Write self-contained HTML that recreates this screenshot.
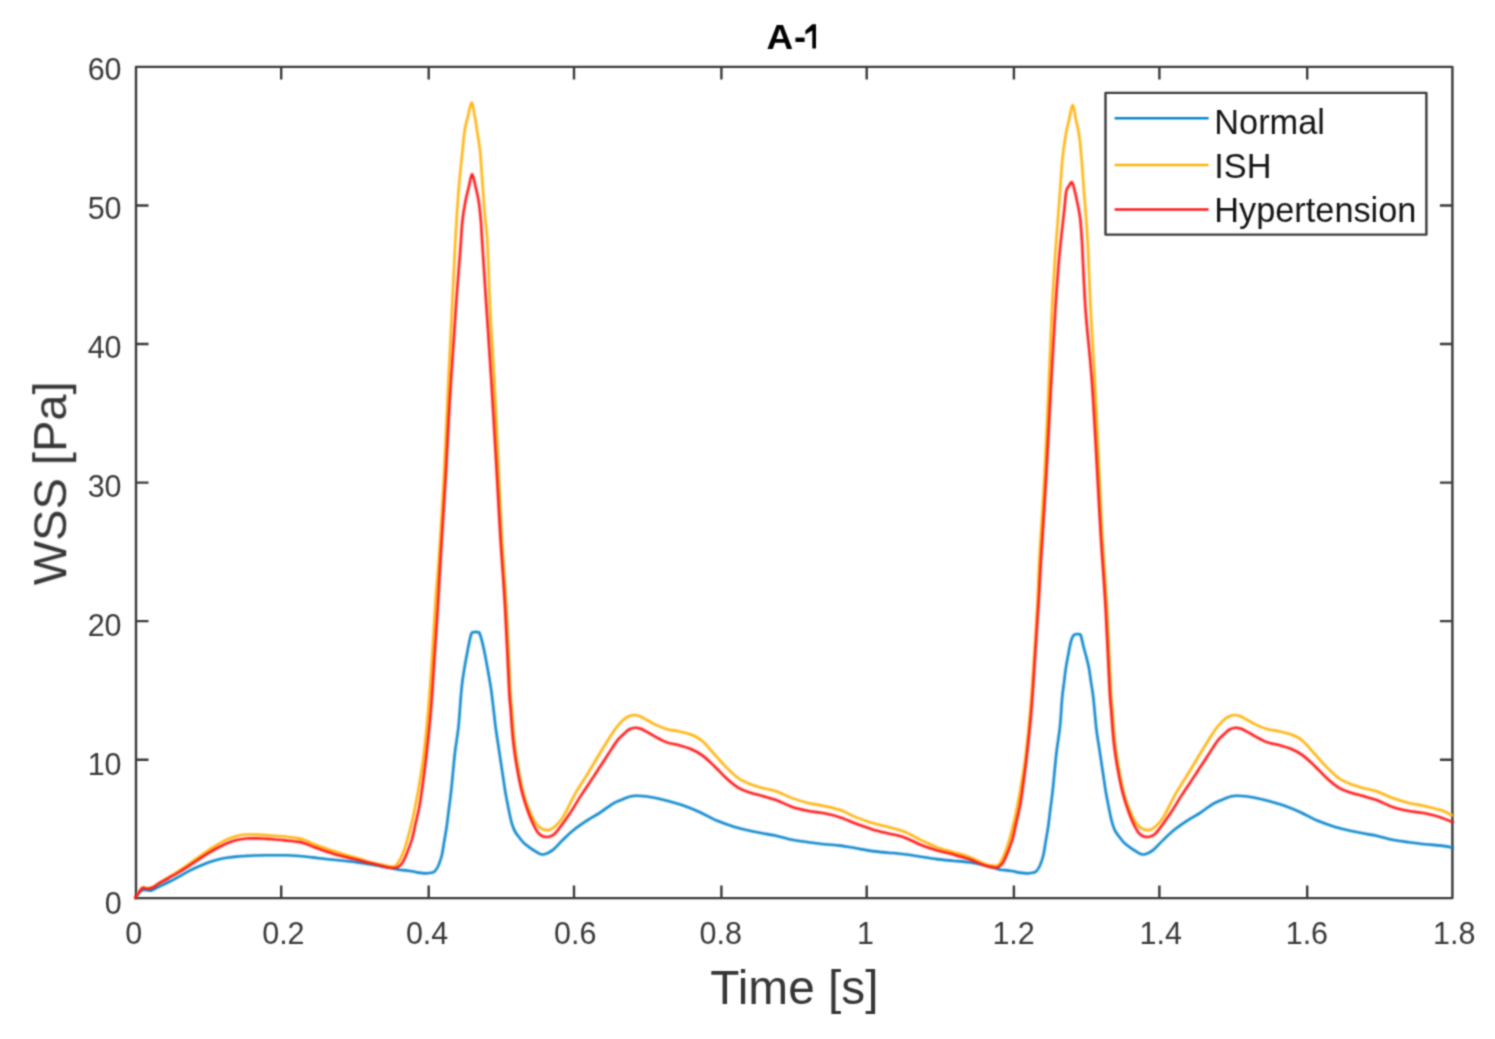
<!DOCTYPE html>
<html><head><meta charset="utf-8"><title>A-1</title>
<style>html,body{margin:0;padding:0;background:#fff;width:1495px;height:1039px;overflow:hidden}
svg{display:block;font-family:"Liberation Sans",sans-serif}</style></head>
<body><svg width="1495" height="1039" viewBox="0 0 1495 1039">
<defs><filter id="bl" x="0" y="0" width="1495" height="1039" filterUnits="userSpaceOnUse" color-interpolation-filters="sRGB"><feConvolveMatrix order="5" kernelMatrix="0.00009 0.00198 0.00548 0.00198 0.00009 0.00198 0.04220 0.11707 0.04220 0.00198 0.00548 0.11707 0.32480 0.11707 0.00548 0.00198 0.04220 0.11707 0.04220 0.00198 0.00009 0.00198 0.00548 0.00198 0.00009" edgeMode="none"/></filter><filter id="bl2" x="0" y="0" width="1495" height="1039" filterUnits="userSpaceOnUse" color-interpolation-filters="sRGB"><feConvolveMatrix order="5" kernelMatrix="0.00142 0.00904 0.01675 0.00904 0.00142 0.00904 0.05757 0.10673 0.05757 0.00904 0.01675 0.10673 0.19786 0.10673 0.01675 0.00904 0.05757 0.10673 0.05757 0.00904 0.00142 0.00904 0.01675 0.00904 0.00142" edgeMode="none"/></filter><clipPath id="cp"><rect x="136.0" y="64.9" width="1316.4" height="835.2"/></clipPath></defs>
<rect width="100%" height="100%" fill="#fff"/>
<g filter="url(#bl)">
<rect x="136.0" y="66.9" width="1316.4" height="831.2" fill="none" stroke="#3a3a3a" stroke-width="2.40" stroke-linejoin="round"/>
<path d="M281.2 898.1V885.6M281.2 66.9V79.4M428.7 898.1V885.6M428.7 66.9V79.4M574.0 898.1V885.6M574.0 66.9V79.4M721.4 898.1V885.6M721.4 66.9V79.4M866.7 898.1V885.6M866.7 66.9V79.4M1013.9 898.1V885.6M1013.9 66.9V79.4M1159.4 898.1V885.6M1159.4 66.9V79.4M1307.2 898.1V885.6M1307.2 66.9V79.4M136.0 759.7H148.5M1452.4 759.7H1439.9M136.0 621.1H148.5M1452.4 621.1H1439.9M136.0 482.6H148.5M1452.4 482.6H1439.9M136.0 344.0H148.5M1452.4 344.0H1439.9M136.0 205.5H148.5M1452.4 205.5H1439.9" stroke="#3a3a3a" stroke-width="2.40" fill="none"/>
</g>
<g filter="url(#bl2)"><g fill="none" stroke-width="2.60" stroke-linejoin="round" stroke-linecap="round">
<path stroke="#0a86cd" d="M135.3 898.0C136.5 896.7 139.5 891.4 142.2 890.2C144.8 889.0 148.6 891.1 151.2 890.6C153.8 890.1 155.1 888.6 158.0 887.2C160.9 885.8 165.4 883.7 168.8 882.0C172.2 880.3 175.3 878.6 178.5 876.8C181.7 875.0 185.0 873.1 188.2 871.4C191.4 869.7 194.7 868.2 197.9 866.8C201.1 865.3 204.4 863.9 207.6 862.7C210.8 861.5 214.1 860.6 217.3 859.8C220.5 859.0 223.8 858.3 227.0 857.8C230.2 857.3 233.5 856.9 236.7 856.6C239.9 856.3 243.2 856.1 246.4 855.9C249.6 855.7 252.9 855.6 256.1 855.5C259.3 855.4 262.6 855.3 265.8 855.3C269.0 855.3 272.3 855.3 275.5 855.3C278.7 855.3 281.9 855.2 285.2 855.3C288.4 855.4 291.8 855.5 295.0 855.7C298.2 855.9 301.4 856.2 304.6 856.5C307.8 856.8 311.1 857.2 314.3 857.6C317.5 858.0 320.8 858.4 324.0 858.8C327.2 859.2 330.5 859.5 333.7 859.8C336.9 860.1 340.2 860.4 343.4 860.7C346.6 861.0 349.9 861.4 353.1 861.8C356.3 862.2 359.6 862.6 362.8 863.1C366.0 863.6 369.3 864.2 372.5 864.8C375.7 865.4 379.3 866.1 382.2 866.6C385.1 867.1 387.4 867.5 390.0 868.0C392.6 868.5 396.1 869.2 397.7 869.5C399.2 869.8 397.2 869.5 399.3 869.7C401.4 870.0 406.9 870.5 410.0 871.0C413.1 871.5 415.4 872.2 418.0 872.6C420.6 873.0 423.1 873.4 425.3 873.4C427.5 873.4 429.4 873.1 431.0 872.8C432.6 872.5 433.4 872.4 434.6 871.4C435.8 870.4 437.0 868.4 438.0 866.5C439.0 864.6 439.7 862.1 440.4 860.1C441.1 858.1 441.3 857.9 442.0 854.6C442.7 851.3 443.6 844.9 444.4 840.3C445.2 835.7 445.8 832.6 446.6 827.2C447.4 821.8 448.2 814.1 449.0 808.0C449.8 801.9 450.2 799.6 451.2 790.6C452.2 781.6 453.6 764.7 454.8 754.0C456.0 743.3 457.5 736.1 458.5 726.6C459.5 717.1 460.2 704.6 460.8 697.3C461.4 690.0 461.6 687.6 462.2 682.8C462.8 678.0 463.7 672.8 464.4 668.4C465.1 664.0 465.8 660.3 466.6 656.1C467.4 651.9 468.3 646.8 469.1 643.1C469.9 639.4 470.6 635.5 471.3 633.7C472.0 631.9 472.7 632.5 473.5 632.2C474.3 631.9 475.2 631.9 476.0 631.9C476.8 631.9 477.6 632.1 478.2 632.3C478.8 632.5 478.9 631.5 479.6 633.3C480.3 635.1 481.6 639.3 482.5 643.1C483.4 646.9 484.4 651.3 485.3 656.1C486.2 660.9 487.2 666.4 488.2 672.0C489.2 677.6 490.3 683.8 491.2 690.0C492.1 696.2 492.7 702.6 493.5 709.0C494.3 715.4 495.0 722.7 495.8 728.5C496.6 734.3 497.3 738.9 498.1 744.0C498.9 749.1 499.6 754.1 500.4 759.2C501.2 764.3 501.9 769.4 502.7 774.5C503.5 779.6 504.2 785.0 505.0 790.0C505.8 795.0 506.8 799.9 507.7 804.5C508.6 809.1 509.6 814.2 510.4 817.7C511.2 821.2 511.8 823.5 512.6 825.8C513.4 828.1 513.9 829.5 515.0 831.5C516.1 833.5 517.8 835.7 519.5 837.8C521.2 839.9 522.0 841.4 525.0 843.9C528.0 846.4 534.4 850.8 537.5 852.6C540.6 854.4 541.3 854.9 543.8 854.5C546.3 854.1 549.5 852.5 552.6 850.1C555.7 847.7 558.9 843.7 562.6 840.1C566.4 836.5 570.9 832.1 575.1 828.8C579.3 825.5 583.4 822.8 587.6 820.1C591.8 817.4 595.9 815.3 600.1 812.6C604.3 809.9 609.0 806.0 612.6 803.8C616.2 801.6 619.1 800.8 622.0 799.6C624.9 798.4 627.7 797.2 630.0 796.6C632.3 796.0 633.5 795.8 636.0 795.7C638.5 795.6 641.5 795.8 645.0 796.2C648.5 796.6 652.5 797.4 656.7 798.3C660.9 799.2 665.7 800.4 670.0 801.6C674.3 802.8 677.7 803.5 682.7 805.3C687.7 807.1 694.2 809.6 700.0 812.2C705.8 814.8 711.5 818.3 717.3 820.8C723.1 823.2 728.8 825.2 734.6 826.9C740.4 828.6 746.9 830.1 752.0 831.2C757.1 832.4 761.0 833.0 765.0 833.8C769.0 834.6 771.6 834.8 776.1 835.8C780.6 836.8 786.8 838.7 792.1 839.8C797.5 840.9 802.9 841.5 808.2 842.2C813.6 842.9 818.9 843.6 824.2 844.2C829.6 844.8 834.9 844.9 840.3 845.6C845.6 846.3 850.9 847.4 856.3 848.3C861.6 849.2 867.0 850.4 872.4 851.1C877.8 851.8 883.0 852.2 888.4 852.7C893.8 853.2 899.1 853.6 904.5 854.3C909.9 855.0 915.1 855.9 920.5 856.7C925.9 857.5 931.2 858.4 936.6 859.1C942.0 859.8 947.2 860.2 952.6 860.7C958.0 861.2 963.3 861.5 968.7 862.3C974.1 863.1 980.6 864.5 984.8 865.5C989.0 866.5 991.7 867.4 994.1 868.1C996.5 868.8 998.1 869.2 999.2 869.5C1000.3 869.8 998.8 869.5 1000.8 869.7C1002.8 870.0 1008.4 870.5 1011.5 871.0C1014.6 871.5 1017.0 872.2 1019.5 872.6C1022.0 873.0 1024.6 873.4 1026.8 873.4C1029.0 873.4 1031.0 873.1 1032.5 872.8C1034.0 872.5 1034.9 872.4 1036.1 871.4C1037.3 870.4 1038.5 868.4 1039.5 866.5C1040.5 864.6 1041.2 862.1 1041.9 860.1C1042.6 858.1 1042.8 857.9 1043.5 854.6C1044.2 851.3 1045.1 844.9 1045.9 840.3C1046.7 835.7 1047.3 832.6 1048.1 827.2C1048.9 821.8 1049.7 814.1 1050.5 808.0C1051.3 801.9 1051.7 799.6 1052.7 790.6C1053.7 781.6 1055.1 764.7 1056.3 754.0C1057.5 743.3 1059.0 736.1 1060.0 726.6C1061.0 717.1 1061.5 704.6 1062.2 697.3C1062.9 690.0 1063.4 687.6 1064.0 682.8C1064.6 678.0 1065.1 672.8 1065.8 668.4C1066.5 664.0 1067.2 660.3 1068.0 656.1C1068.8 651.9 1069.7 646.5 1070.5 643.1C1071.3 639.7 1072.3 637.3 1073.1 635.8C1073.9 634.3 1074.7 634.6 1075.5 634.3C1076.3 634.0 1077.3 634.0 1078.1 634.0C1078.8 634.0 1079.5 634.3 1080.0 634.6C1080.5 634.9 1080.5 634.0 1081.0 635.8C1081.5 637.6 1082.4 641.8 1083.2 645.2C1084.0 648.6 1085.1 652.2 1086.1 656.1C1087.1 660.0 1088.2 664.0 1089.0 668.4C1089.8 672.8 1090.4 678.0 1091.1 682.8C1091.8 687.6 1092.4 689.7 1093.3 697.3C1094.2 704.9 1095.4 720.7 1096.3 728.5C1097.2 736.3 1097.8 738.9 1098.6 744.0C1099.4 749.1 1100.1 754.1 1100.9 759.2C1101.7 764.3 1102.4 769.4 1103.2 774.5C1104.0 779.6 1104.7 785.0 1105.5 790.0C1106.3 795.0 1107.3 799.9 1108.2 804.5C1109.1 809.1 1110.1 814.2 1110.9 817.7C1111.7 821.2 1112.3 823.5 1113.1 825.8C1113.9 828.1 1114.3 829.5 1115.5 831.5C1116.7 833.5 1118.3 835.7 1120.0 837.8C1121.7 839.9 1122.5 841.4 1125.5 843.9C1128.5 846.4 1134.9 850.8 1138.0 852.6C1141.1 854.4 1141.8 854.9 1144.3 854.5C1146.8 854.1 1150.0 852.5 1153.1 850.1C1156.2 847.7 1159.3 843.7 1163.1 840.1C1166.8 836.5 1171.4 832.1 1175.6 828.8C1179.8 825.5 1183.9 822.8 1188.1 820.1C1192.3 817.4 1196.4 815.3 1200.6 812.6C1204.8 809.9 1209.4 806.0 1213.1 803.8C1216.8 801.6 1219.6 800.8 1222.5 799.6C1225.4 798.4 1228.2 797.2 1230.5 796.6C1232.8 796.0 1234.0 795.8 1236.5 795.7C1239.0 795.6 1242.0 795.8 1245.5 796.2C1249.0 796.6 1253.0 797.4 1257.2 798.3C1261.4 799.2 1266.2 800.4 1270.5 801.6C1274.8 802.8 1278.2 803.5 1283.2 805.3C1288.2 807.1 1294.7 809.6 1300.5 812.2C1306.3 814.8 1312.0 818.3 1317.8 820.8C1323.6 823.2 1329.3 825.2 1335.1 826.9C1340.9 828.6 1347.4 830.1 1352.5 831.2C1357.6 832.4 1361.5 833.0 1365.5 833.8C1369.5 834.6 1372.1 834.8 1376.6 835.8C1381.1 836.8 1387.2 838.7 1392.6 839.8C1397.9 840.9 1403.3 841.5 1408.7 842.2C1414.1 842.9 1419.4 843.6 1424.7 844.2C1430.0 844.8 1436.2 845.0 1440.8 845.6C1445.4 846.2 1450.5 847.2 1452.4 847.6"/>
<path stroke="#ffb40f" d="M135.3 897.9C136.5 896.2 140.2 889.4 142.2 887.8C144.2 886.2 145.6 888.6 147.5 888.4C149.4 888.2 152.1 887.2 153.8 886.4C155.6 885.6 155.5 885.1 158.0 883.6C160.5 882.1 165.4 879.3 168.8 877.2C172.2 875.1 175.3 873.1 178.5 871.0C181.7 868.9 185.0 866.8 188.2 864.6C191.4 862.4 194.7 859.9 197.9 857.6C201.1 855.3 204.4 853.0 207.6 850.8C210.8 848.6 214.1 846.5 217.3 844.6C220.5 842.7 223.8 840.8 227.0 839.4C230.2 838.0 233.5 836.8 236.7 836.0C239.9 835.2 243.2 834.7 246.4 834.5C249.6 834.3 252.9 834.5 256.1 834.6C259.3 834.7 262.6 834.9 265.8 835.1C269.0 835.3 272.3 835.6 275.5 835.8C278.7 836.0 281.3 836.1 285.2 836.5C289.1 836.9 295.2 837.7 298.8 838.4C302.4 839.1 303.9 839.8 306.5 840.8C309.1 841.8 311.4 843.0 314.3 844.2C317.2 845.4 320.8 846.7 324.0 847.8C327.2 848.9 330.5 849.9 333.7 851.0C336.9 852.1 340.2 853.2 343.4 854.2C346.6 855.2 349.9 856.0 353.1 856.9C356.3 857.8 359.6 858.8 362.8 859.8C366.0 860.8 369.3 861.9 372.5 862.7C375.7 863.5 379.6 864.2 382.2 864.8C384.8 865.3 386.2 865.7 388.0 866.0C389.8 866.3 391.8 866.8 393.2 866.6C394.6 866.5 395.0 866.6 396.3 865.1C397.6 863.6 399.4 861.0 400.9 857.8C402.4 854.6 404.1 850.0 405.5 845.9C406.9 841.8 407.9 837.7 409.1 833.1C410.3 828.5 411.6 823.9 412.8 818.4C414.0 812.9 415.4 805.7 416.5 800.1C417.6 794.5 418.0 792.1 419.2 784.6C420.4 777.1 422.2 767.8 423.7 755.3C425.2 742.8 426.9 726.4 428.3 709.6C429.7 692.9 431.1 673.1 432.3 654.8C433.5 636.5 434.5 615.8 435.6 600.0C436.7 584.2 437.4 580.4 438.8 560.0C440.2 539.6 442.3 508.1 443.9 477.9C445.5 447.7 447.1 406.7 448.5 378.6C449.9 350.5 450.9 331.7 452.0 309.3C453.1 286.9 454.4 260.0 455.2 244.0C456.0 228.0 456.3 223.6 457.0 213.3C457.7 203.0 458.4 192.7 459.3 182.4C460.2 172.1 461.5 160.3 462.4 151.6C463.3 142.9 463.8 136.0 464.7 130.1C465.6 124.2 466.9 120.6 468.0 116.0C469.1 111.4 470.5 102.8 471.6 102.6C472.7 102.4 473.6 110.4 474.5 115.0C475.4 119.6 476.1 124.0 477.0 130.1C477.9 136.2 479.2 142.9 480.1 151.6C481.0 160.3 481.6 172.1 482.4 182.4C483.2 192.7 483.8 203.0 484.7 213.3C485.6 223.6 486.6 228.0 487.5 244.0C488.4 260.0 489.0 286.9 490.1 309.3C491.2 331.7 492.7 350.5 494.2 378.6C495.7 406.7 497.6 451.0 498.9 477.9C500.2 504.8 500.7 518.1 502.0 540.0C503.3 561.9 505.1 584.0 506.5 609.0C507.9 634.0 509.4 673.3 510.3 690.0C511.2 706.7 511.3 702.8 511.8 709.2C512.3 715.6 512.7 722.1 513.2 728.5C513.8 734.9 514.3 741.3 515.1 747.7C515.9 754.1 516.8 760.0 518.0 766.9C519.2 773.8 521.0 783.0 522.4 789.0C523.8 795.0 524.4 797.4 526.3 802.6C528.2 807.8 531.5 815.9 533.8 820.1C536.1 824.3 537.7 825.9 540.0 827.6C542.3 829.3 545.2 830.1 547.5 830.1C549.8 830.1 551.3 829.7 553.8 827.6C556.3 825.5 559.0 823.2 562.6 817.6C566.2 812.0 570.9 801.1 575.1 793.8C579.3 786.5 583.5 780.6 587.6 773.8C591.8 767.0 595.9 759.7 600.0 753.0C604.1 746.3 609.0 738.3 612.0 733.7C615.0 729.1 616.0 727.9 618.0 725.5C620.0 723.1 622.3 720.8 624.1 719.3C625.9 717.8 627.3 717.0 629.0 716.3C630.7 715.6 632.5 715.0 634.3 715.0C636.1 715.0 638.1 715.5 640.0 716.2C641.9 716.9 643.4 718.0 645.8 719.3C648.2 720.6 650.8 722.5 654.2 724.1C657.6 725.7 662.2 727.7 666.2 728.9C670.2 730.1 674.3 730.4 678.3 731.3C682.3 732.2 686.3 732.7 690.3 734.3C694.3 735.9 698.3 737.6 702.3 740.9C706.3 744.2 710.4 749.8 714.4 754.2C718.4 758.6 722.4 763.4 726.4 767.4C730.4 771.4 734.5 775.5 738.5 778.3C742.5 781.1 746.5 782.7 750.5 784.3C754.5 785.9 758.2 786.8 762.5 787.9C766.8 789.0 771.2 789.5 776.1 791.2C781.0 792.9 786.8 796.2 792.1 798.1C797.5 800.0 802.9 801.6 808.2 802.9C813.6 804.2 818.9 804.9 824.2 806.1C829.6 807.3 834.9 808.2 840.3 810.1C845.6 812.0 850.9 815.2 856.3 817.4C861.6 819.5 867.0 821.4 872.4 823.0C877.8 824.6 883.0 825.5 888.4 827.0C893.8 828.5 899.1 829.7 904.5 831.8C909.9 833.9 915.1 837.2 920.5 839.8C925.9 842.3 931.2 845.1 936.6 847.1C942.0 849.1 947.2 850.3 952.6 851.9C958.0 853.5 963.3 854.7 968.7 856.7C974.1 858.7 980.8 862.4 984.8 863.9C988.8 865.4 990.5 865.3 992.8 865.5C995.0 865.7 996.6 866.4 998.3 865.1C1000.0 863.8 1001.4 861.0 1002.9 857.8C1004.4 854.6 1006.1 850.0 1007.5 845.9C1008.9 841.8 1009.9 837.7 1011.1 833.1C1012.3 828.5 1013.6 823.9 1014.8 818.4C1016.0 812.9 1017.4 805.7 1018.5 800.1C1019.6 794.5 1020.0 792.1 1021.2 784.6C1022.4 777.1 1024.2 767.8 1025.7 755.3C1027.2 742.8 1028.9 726.4 1030.3 709.6C1031.7 692.9 1033.1 673.1 1034.3 654.8C1035.5 636.5 1036.8 615.8 1037.6 600.0C1038.4 584.2 1038.2 580.4 1039.3 560.0C1040.4 539.6 1042.8 508.1 1044.4 477.9C1046.0 447.7 1047.7 406.7 1049.0 378.6C1050.3 350.5 1050.9 331.0 1052.0 309.3C1053.1 287.6 1054.7 263.4 1055.7 248.7C1056.7 234.0 1057.1 230.8 1057.8 221.0C1058.5 211.2 1059.3 200.5 1060.1 190.2C1060.9 179.9 1061.5 168.3 1062.4 159.3C1063.3 150.3 1064.4 142.8 1065.5 136.2C1066.6 129.6 1067.8 125.2 1069.0 120.0C1070.2 114.8 1071.5 104.8 1072.7 104.8C1073.9 104.8 1074.9 114.8 1076.0 120.0C1077.1 125.2 1078.4 129.6 1079.3 136.2C1080.2 142.8 1080.8 150.3 1081.6 159.3C1082.4 168.3 1083.1 179.9 1083.9 190.2C1084.7 200.5 1085.6 211.2 1086.3 221.0C1087.0 230.8 1087.3 234.0 1088.0 248.7C1088.7 263.4 1089.5 287.6 1090.6 309.3C1091.7 331.0 1093.2 350.5 1094.7 378.6C1096.2 406.7 1098.1 451.0 1099.4 477.9C1100.7 504.8 1101.2 518.1 1102.5 540.0C1103.8 561.9 1105.6 584.0 1107.0 609.0C1108.4 634.0 1109.9 673.3 1110.8 690.0C1111.7 706.7 1111.8 702.8 1112.3 709.2C1112.8 715.6 1113.2 722.1 1113.7 728.5C1114.2 734.9 1114.8 741.3 1115.6 747.7C1116.4 754.1 1117.3 760.0 1118.5 766.9C1119.7 773.8 1121.5 783.0 1122.9 789.0C1124.3 795.0 1124.9 797.4 1126.8 802.6C1128.7 807.8 1132.0 815.9 1134.3 820.1C1136.6 824.3 1138.2 825.9 1140.5 827.6C1142.8 829.3 1145.7 830.1 1148.0 830.1C1150.3 830.1 1151.8 829.7 1154.3 827.6C1156.8 825.5 1159.5 823.2 1163.1 817.6C1166.6 812.0 1171.4 801.1 1175.6 793.8C1179.8 786.5 1183.9 780.6 1188.1 773.8C1192.2 767.0 1196.4 759.7 1200.5 753.0C1204.6 746.3 1209.5 738.3 1212.5 733.7C1215.5 729.1 1216.5 727.9 1218.5 725.5C1220.5 723.1 1222.8 720.8 1224.6 719.3C1226.4 717.8 1227.8 717.0 1229.5 716.3C1231.2 715.6 1233.0 715.0 1234.8 715.0C1236.6 715.0 1238.6 715.5 1240.5 716.2C1242.4 716.9 1243.9 718.0 1246.3 719.3C1248.7 720.6 1251.3 722.5 1254.7 724.1C1258.1 725.7 1262.7 727.7 1266.7 728.9C1270.7 730.1 1274.8 730.4 1278.8 731.3C1282.8 732.2 1286.8 732.7 1290.8 734.3C1294.8 735.9 1298.8 737.6 1302.8 740.9C1306.8 744.2 1310.9 749.8 1314.9 754.2C1318.9 758.6 1322.9 763.4 1326.9 767.4C1330.9 771.4 1335.0 775.5 1339.0 778.3C1343.0 781.1 1347.0 782.7 1351.0 784.3C1355.0 785.9 1358.7 786.8 1363.0 787.9C1367.3 789.0 1371.7 789.5 1376.6 791.2C1381.5 792.9 1387.2 796.2 1392.6 798.1C1397.9 800.0 1403.3 801.6 1408.7 802.9C1414.1 804.2 1419.4 804.9 1424.7 806.1C1430.0 807.3 1436.2 808.6 1440.8 810.1C1445.4 811.6 1450.5 814.5 1452.4 815.4"/>
<path stroke="#ff1818" d="M135.3 897.9C136.5 896.3 140.2 889.6 142.2 888.1C144.2 886.6 145.6 889.1 147.5 888.9C149.4 888.7 152.1 887.9 153.8 887.1C155.6 886.3 155.5 885.5 158.0 884.0C160.5 882.5 165.4 879.9 168.8 878.0C172.2 876.1 175.3 874.4 178.5 872.5C181.7 870.6 185.0 868.5 188.2 866.4C191.4 864.3 194.7 862.1 197.9 860.0C201.1 857.9 204.4 855.7 207.6 853.7C210.8 851.7 214.1 849.7 217.3 848.0C220.5 846.3 223.8 844.6 227.0 843.3C230.2 842.0 233.5 840.8 236.7 840.0C239.9 839.2 243.2 838.8 246.4 838.5C249.6 838.2 252.9 838.4 256.1 838.4C259.3 838.4 262.6 838.6 265.8 838.8C269.0 839.0 272.3 839.2 275.5 839.5C278.7 839.8 281.3 840.0 285.2 840.4C289.1 840.8 295.2 841.3 298.8 841.9C302.4 842.5 303.9 843.1 306.5 844.0C309.1 844.9 311.4 846.1 314.3 847.2C317.2 848.3 320.8 849.7 324.0 850.8C327.2 851.9 330.5 852.9 333.7 853.9C336.9 854.9 340.2 855.7 343.4 856.5C346.6 857.3 349.9 858.0 353.1 858.8C356.3 859.6 359.6 860.4 362.8 861.2C366.0 862.0 369.3 862.8 372.5 863.6C375.7 864.4 379.6 865.4 382.2 866.0C384.8 866.6 386.0 867.1 388.0 867.4C390.0 867.7 392.5 868.1 394.2 868.0C395.9 867.9 396.8 867.9 398.2 867.0C399.6 866.1 401.2 864.9 402.7 862.4C404.2 859.9 405.8 856.1 407.3 852.3C408.8 848.5 410.5 844.2 411.9 839.5C413.3 834.8 414.3 829.2 415.5 823.9C416.7 818.6 418.1 813.1 419.2 807.5C420.3 801.9 420.7 799.2 421.9 790.5C423.1 781.8 424.9 768.8 426.4 755.3C427.9 741.8 429.6 726.4 431.0 709.6C432.4 692.9 433.5 673.1 434.7 654.8C435.9 636.5 437.4 615.4 438.3 600.0C439.2 584.6 439.1 583.7 440.4 562.4C441.7 541.1 444.4 498.8 446.0 472.0C447.6 445.2 448.3 425.0 449.7 401.7C451.1 378.4 453.1 350.7 454.3 332.4C455.5 314.1 455.9 306.4 457.0 292.0C458.1 277.6 459.7 257.8 460.6 246.0C461.5 234.2 461.6 228.5 462.4 221.0C463.2 213.5 464.4 206.6 465.5 200.9C466.6 195.2 467.7 191.5 468.8 187.0C469.9 182.5 471.0 174.2 472.1 174.0C473.2 173.8 474.3 181.5 475.4 186.0C476.5 190.5 477.7 195.1 478.6 200.9C479.5 206.7 480.3 214.2 480.9 221.0C481.5 227.8 481.2 227.3 482.2 242.0C483.1 256.7 485.1 286.5 486.6 309.3C488.1 332.1 489.5 351.2 491.2 378.6C492.9 406.1 495.2 447.2 496.8 474.0C498.4 500.8 499.1 516.9 500.5 539.3C501.9 561.7 503.7 583.5 505.1 608.6C506.5 633.7 508.2 673.2 509.1 690.0C510.0 706.8 510.1 702.8 510.6 709.2C511.1 715.6 511.4 722.1 512.0 728.5C512.5 734.9 513.1 741.3 513.9 747.7C514.7 754.1 515.6 760.0 516.8 766.9C518.0 773.8 519.8 783.0 521.2 789.0C522.6 795.0 523.3 797.4 525.0 802.6C526.7 807.8 529.2 815.2 531.3 820.1C533.4 825.0 535.7 829.4 537.5 832.0C539.3 834.6 540.3 835.2 542.0 836.0C543.7 836.8 545.8 837.1 547.5 837.0C549.2 836.9 550.5 836.4 552.0 835.6C553.5 834.8 553.5 835.6 556.3 832.2C559.1 828.8 564.6 821.3 568.8 815.1C573.0 808.9 577.1 801.6 581.3 795.1C585.5 788.6 590.7 781.1 593.8 776.4C596.9 771.7 597.9 770.0 600.0 766.8C602.1 763.6 604.4 760.1 606.4 757.0C608.4 753.9 610.1 751.3 612.0 748.4C613.9 745.5 616.0 742.0 618.0 739.6C620.0 737.2 622.3 735.4 624.1 733.7C625.9 732.0 627.2 730.5 629.0 729.5C630.8 728.5 633.1 727.9 634.9 727.7C636.7 727.6 638.2 728.0 640.0 728.6C641.8 729.2 643.4 730.0 645.8 731.3C648.2 732.5 650.8 734.3 654.2 736.1C657.6 737.9 662.2 740.6 666.2 742.1C670.2 743.6 674.3 744.0 678.3 745.1C682.3 746.2 686.3 747.1 690.3 748.8C694.3 750.5 698.3 752.5 702.3 755.4C706.3 758.3 710.4 762.4 714.4 766.2C718.4 770.0 722.4 774.7 726.4 778.3C730.4 781.9 734.5 785.5 738.5 787.9C742.5 790.3 746.5 791.4 750.5 792.7C754.5 794.1 758.2 794.8 762.5 796.0C766.8 797.2 771.2 798.2 776.1 800.0C781.0 801.8 786.8 805.1 792.1 806.9C797.5 808.7 802.9 809.8 808.2 810.9C813.6 812.0 818.9 812.2 824.2 813.3C829.6 814.4 834.9 815.6 840.3 817.4C845.6 819.1 850.9 821.8 856.3 823.8C861.6 825.8 867.0 827.8 872.4 829.4C877.8 831.0 883.0 832.1 888.4 833.4C893.8 834.7 899.1 835.5 904.5 837.4C909.9 839.3 915.1 842.6 920.5 844.7C925.9 846.9 931.2 848.7 936.6 850.3C942.0 851.9 947.2 852.8 952.6 854.3C958.0 855.8 963.3 857.2 968.7 859.1C974.1 861.0 980.5 864.1 984.8 865.5C989.1 866.9 992.1 867.4 994.4 867.6C996.7 867.9 997.2 867.9 998.7 867.0C1000.2 866.1 1001.7 864.9 1003.2 862.4C1004.7 859.9 1006.3 856.1 1007.8 852.3C1009.3 848.5 1011.0 844.2 1012.4 839.5C1013.8 834.8 1014.8 829.2 1016.0 823.9C1017.2 818.6 1018.6 813.1 1019.7 807.5C1020.8 801.9 1021.2 799.2 1022.4 790.5C1023.6 781.8 1025.4 768.8 1026.9 755.3C1028.4 741.8 1030.1 726.4 1031.5 709.6C1032.9 692.9 1034.0 673.1 1035.2 654.8C1036.4 636.5 1037.8 615.4 1038.8 600.0C1039.8 584.6 1039.6 583.7 1040.9 562.4C1042.2 541.1 1045.0 498.8 1046.5 472.0C1048.0 445.2 1048.7 428.8 1050.2 401.7C1051.7 374.6 1054.1 330.9 1055.4 309.3C1056.7 287.7 1057.2 282.9 1058.0 272.0C1058.8 261.1 1059.5 253.8 1060.5 244.0C1061.5 234.2 1063.0 222.0 1063.9 213.3C1064.9 204.6 1065.4 196.2 1066.2 191.7C1067.0 187.1 1068.0 187.6 1069.0 186.0C1070.0 184.4 1071.1 181.4 1072.1 182.4C1073.1 183.4 1074.2 188.9 1075.0 192.0C1075.8 195.1 1076.2 196.6 1077.0 200.9C1077.8 205.2 1079.3 211.1 1080.1 217.9C1080.9 224.8 1081.1 226.8 1082.0 242.0C1082.9 257.2 1083.9 286.5 1085.5 309.3C1087.1 332.1 1089.7 351.2 1091.7 378.6C1093.7 406.1 1095.8 447.2 1097.3 474.0C1098.8 500.8 1099.6 516.9 1101.0 539.3C1102.4 561.7 1104.2 583.5 1105.6 608.6C1107.0 633.7 1108.7 673.2 1109.6 690.0C1110.5 706.8 1110.6 702.8 1111.1 709.2C1111.6 715.6 1112.0 722.1 1112.5 728.5C1113.0 734.9 1113.6 741.3 1114.4 747.7C1115.2 754.1 1116.1 760.0 1117.3 766.9C1118.5 773.8 1120.3 783.0 1121.7 789.0C1123.1 795.0 1123.8 797.4 1125.5 802.6C1127.2 807.8 1129.7 815.2 1131.8 820.1C1133.9 825.0 1136.2 829.4 1138.0 832.0C1139.8 834.6 1140.8 835.2 1142.5 836.0C1144.2 836.8 1146.3 837.1 1148.0 837.0C1149.7 836.9 1151.0 836.4 1152.5 835.6C1154.0 834.8 1154.0 835.6 1156.8 832.2C1159.6 828.8 1165.1 821.3 1169.3 815.1C1173.5 808.9 1177.6 801.6 1181.8 795.1C1186.0 788.6 1191.2 781.1 1194.3 776.4C1197.4 771.7 1198.4 770.0 1200.5 766.8C1202.6 763.6 1204.9 760.1 1206.9 757.0C1208.9 753.9 1210.6 751.3 1212.5 748.4C1214.4 745.5 1216.5 742.0 1218.5 739.6C1220.5 737.2 1222.8 735.4 1224.6 733.7C1226.4 732.0 1227.7 730.5 1229.5 729.5C1231.3 728.5 1233.6 727.9 1235.4 727.7C1237.2 727.6 1238.7 728.0 1240.5 728.6C1242.3 729.2 1243.9 730.0 1246.3 731.3C1248.7 732.5 1251.3 734.3 1254.7 736.1C1258.1 737.9 1262.7 740.6 1266.7 742.1C1270.7 743.6 1274.8 744.0 1278.8 745.1C1282.8 746.2 1286.8 747.1 1290.8 748.8C1294.8 750.5 1298.8 752.5 1302.8 755.4C1306.8 758.3 1310.9 762.4 1314.9 766.2C1318.9 770.0 1322.9 774.7 1326.9 778.3C1330.9 781.9 1335.0 785.5 1339.0 787.9C1343.0 790.3 1347.0 791.4 1351.0 792.7C1355.0 794.1 1358.7 794.8 1363.0 796.0C1367.3 797.2 1371.7 798.2 1376.6 800.0C1381.5 801.8 1387.2 805.1 1392.6 806.9C1397.9 808.7 1403.3 809.8 1408.7 810.9C1414.1 812.0 1419.4 812.2 1424.7 813.3C1430.0 814.4 1436.2 815.9 1440.8 817.4C1445.4 818.9 1450.5 821.3 1452.4 822.0"/>
</g></g>
<g filter="url(#bl)">
<rect x="1105.5" y="92.9" width="320.9" height="141.7" fill="#fff" stroke="#3a3a3a" stroke-width="2.40" stroke-linejoin="round"/>
<path d="M1114.6 118.3H1208.6" stroke="#0a86cd" stroke-width="2.60"/>
<path d="M1114.6 165.0H1208.6" stroke="#ffb40f" stroke-width="2.60"/>
<path d="M1114.6 209.5H1208.6" stroke="#ff1818" stroke-width="2.60"/>
<text font-family="Liberation Sans, sans-serif" font-size="34.3" fill="#141414" x="1214.3" y="133.6">Normal</text>
<text font-family="Liberation Sans, sans-serif" font-size="34.3" fill="#141414" x="1214.3" y="178.0">ISH</text>
<text font-family="Liberation Sans, sans-serif" font-size="34.3" fill="#141414" x="1214.3" y="222.4">Hypertension</text>
<text font-family="Liberation Sans, sans-serif" font-size="30.5" fill="#383838" x="125.2" y="943.8">0</text>
<text font-family="Liberation Sans, sans-serif" font-size="30.5" fill="#383838" x="262.2" y="943.8">0.2</text>
<text font-family="Liberation Sans, sans-serif" font-size="30.5" fill="#383838" x="405.9" y="943.8">0.4</text>
<text font-family="Liberation Sans, sans-serif" font-size="30.5" fill="#383838" x="554.0" y="943.8">0.6</text>
<text font-family="Liberation Sans, sans-serif" font-size="30.5" fill="#383838" x="699.6" y="943.8">0.8</text>
<text font-family="Liberation Sans, sans-serif" font-size="30.5" fill="#383838" x="857.0" y="943.8">1</text>
<text font-family="Liberation Sans, sans-serif" font-size="30.5" fill="#383838" x="992.4" y="943.8">1.2</text>
<text font-family="Liberation Sans, sans-serif" font-size="30.5" fill="#383838" x="1139.6" y="943.8">1.4</text>
<text font-family="Liberation Sans, sans-serif" font-size="30.5" fill="#383838" x="1285.7" y="943.8">1.6</text>
<text font-family="Liberation Sans, sans-serif" font-size="30.5" fill="#383838" x="1433.1" y="943.8">1.8</text>
<text font-family="Liberation Sans, sans-serif" font-size="30.5" fill="#383838" text-anchor="end" x="121.6" y="913.5">0</text>
<text font-family="Liberation Sans, sans-serif" font-size="30.5" fill="#383838" text-anchor="end" x="121.6" y="774.5">10</text>
<text font-family="Liberation Sans, sans-serif" font-size="30.5" fill="#383838" text-anchor="end" x="121.6" y="635.6">20</text>
<text font-family="Liberation Sans, sans-serif" font-size="30.5" fill="#383838" text-anchor="end" x="121.6" y="496.7">30</text>
<text font-family="Liberation Sans, sans-serif" font-size="30.5" fill="#383838" text-anchor="end" x="121.6" y="357.7">40</text>
<text font-family="Liberation Sans, sans-serif" font-size="30.5" fill="#383838" text-anchor="end" x="121.6" y="218.8">50</text>
<text font-family="Liberation Sans, sans-serif" font-size="30.5" fill="#383838" text-anchor="end" x="121.6" y="79.8">60</text>
<text font-family="Liberation Sans, sans-serif" font-size="47.8" fill="#353535" x="710.3" y="1004.0">Time [s]</text>
<text font-family="Liberation Sans, sans-serif" font-size="47.0" fill="#353535" transform="translate(66.2 585.2) rotate(-90)">WSS [Pa]</text>
<text font-family="Liberation Sans, sans-serif" font-size="35.2" font-weight="bold" fill="#000" transform="translate(766.4 48.7) scale(1.05 1)">A</text>
<text font-family="Liberation Sans, sans-serif" font-size="36.3" font-weight="bold" fill="#000" x="794.0" y="48.7">-</text>
<path fill="#000" d="M812.3 24.3H816.0V48.6H812.3V30.4L805.4 34.6V30.5Z"/>
</g></svg></body></html>
